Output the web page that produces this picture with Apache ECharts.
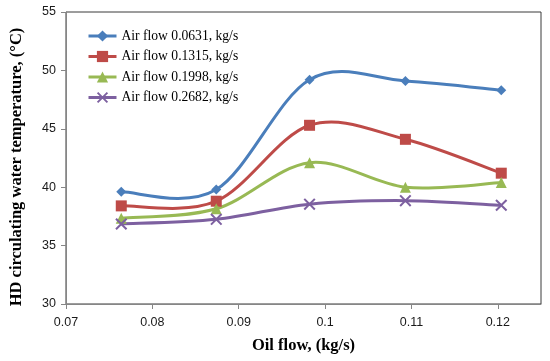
<!DOCTYPE html>
<html><head><meta charset="utf-8">
<script src="https://cdn.jsdelivr.net/npm/echarts@6/dist/echarts.min.js"></script>
<style>html,body{margin:0;padding:0;background:#fff}#c{width:550px;height:361px}</style>
</head><body><div id="c"></div>
<script>
const oilFlow = [0.0764, 0.0874, 0.0982, 0.1093, 0.1204];
const seriesNames = ['Air flow 0.0631, kg/s', 'Air flow 0.1315, kg/s', 'Air flow 0.1998, kg/s', 'Air flow 0.2682, kg/s'];
const air0631 = [39.6, 39.8, 49.2, 49.1, 48.3];
const air1315 = [38.4, 38.8, 45.3, 44.1, 41.2];
const air1998 = [37.35, 38.15, 42.1, 40.0, 40.4];
const air2682 = [36.85, 37.25, 38.55, 38.85, 38.45];
const xTicks = [0.07, 0.08, 0.09, 0.1, 0.11, 0.12];

const colors = ['#4a7ebb', '#be4b48', '#98b954', '#7d60a0'];
const xPath = 'path://M0,1.2 L1.2,0 L5,3.8 L8.8,0 L10,1.2 L6.2,5 L10,8.8 L8.8,10 L5,6.2 L1.2,10 L0,8.8 L3.8,5 Z';
const symbols = ['diamond', 'rect', 'triangle', xPath];
const symSizes = [10, 11, 11, 12];
const allData = [air0631, air1315, air1998, air2682];

// Excel-like smoothed curve (Catmull-Rom as cubic Bezier) drawn in pixel space via api.coord
function curveSeries(d, i) {
  return {
    name: 'curve' + i, type: 'custom', z: 2, silent: true,
    data: d.map((v, j) => [oilFlow[j], v]),
    encode: { x: 0, y: 1 },
    renderItem: function (params, api) {
      if (params.dataIndex !== 0) return null;
      const p = d.map((v, j) => api.coord([oilFlow[j], v]));
      let s = 'M' + p[0][0] + ',' + p[0][1];
      for (let k = 0; k < p.length - 1; k++) {
        const p0 = p[Math.max(k - 1, 0)], p1 = p[k], p2 = p[k + 1], p3 = p[Math.min(k + 2, p.length - 1)];
        const c1 = [p1[0] + (p2[0] - p0[0]) / 6, p1[1] + (p2[1] - p0[1]) / 6];
        const c2 = [p2[0] - (p3[0] - p1[0]) / 6, p2[1] - (p3[1] - p1[1]) / 6];
        s += ' C' + c1[0] + ',' + c1[1] + ' ' + c2[0] + ',' + c2[1] + ' ' + p2[0] + ',' + p2[1];
      }
      return { type: 'path', shape: { pathData: s }, style: { stroke: colors[i], lineWidth: 3, fill: null } };
    }
  };
}

const chart = echarts.init(document.getElementById('c'));
chart.setOption({
  animation: false,
  color: colors,
  grid: { left: 66, top: 12, right: 9, bottom: 57, show: true, borderColor: '#3a3a3a', borderWidth: 1 },
  legend: {
    orient: 'vertical', left: 82, top: 24, itemWidth: 28, itemHeight: 14, itemGap: 6.5,
    textStyle: { fontFamily: 'Liberation Serif', fontSize: 13.6, color: '#000' },
    lineStyle: { width: 3, opacity: 1 },
    data: seriesNames
  },
  xAxis: {
    type: 'value', min: 0.07, max: 0.125, interval: 0.01,
    name: 'Oil flow, (kg/s)', nameLocation: 'middle', nameGap: 33,
    nameTextStyle: { fontFamily: 'Liberation Serif', fontWeight: 'bold', fontSize: 16.5, color: '#000' },
    axisLine: { lineStyle: { color: '#868686' } },
    axisTick: { customValues: xTicks, length: 5, lineStyle: { color: '#868686' } },
    axisLabel: { customValues: xTicks, fontFamily: 'Liberation Sans', fontSize: 12.5, color: '#1a1a1a', margin: 12,
      formatter: v => String(+v.toFixed(2)) },
    splitLine: { show: false }
  },
  yAxis: {
    type: 'value', min: 30, max: 55, interval: 5,
    name: 'HD circulating water temperature, (°C)', nameLocation: 'middle', nameGap: 41,
    nameTextStyle: { fontFamily: 'Liberation Serif', fontWeight: 'bold', fontSize: 16.5, color: '#000', padding: [0, 18, 0, 0] },
    axisLine: { show: true, lineStyle: { color: '#868686' } },
    axisTick: { show: true, length: 5, lineStyle: { color: '#868686' } },
    axisLabel: { fontFamily: 'Liberation Sans', fontSize: 12.5, color: '#1a1a1a', margin: 10 },
    splitLine: { show: false }
  },
  series: allData.map((d, i) => ({
    name: seriesNames[i], type: 'line', z: 3,
    data: d.map((v, j) => [oilFlow[j], v]),
    symbol: symbols[i], symbolSize: symSizes[i],
    lineStyle: { width: 3, color: colors[i], opacity: 0 },
    itemStyle: { color: colors[i] }
  })).concat(allData.map(curveSeries))
});
</script></body></html>
